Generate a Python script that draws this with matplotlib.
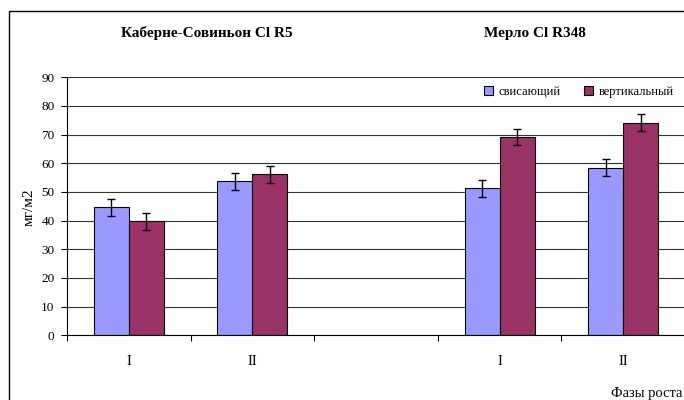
import numpy as np
import matplotlib
matplotlib.use("Agg")
import matplotlib.pyplot as plt
from matplotlib.patches import Rectangle

plt.rcParams["font.family"] = ["Liberation Serif", "DejaVu Serif"]

# data
phases = ["I", "II", "", "I", "II"]
hanging = [44.6, 53.7, np.nan, 51.3, 58.4]
hanging_err = [3.0, 3.0, np.nan, 2.9, 3.0]
vertical = [39.7, 56.1, np.nan, 69.1, 74.1]
vertical_err = [3.0, 3.0, np.nan, 2.8, 3.0]
series_names = ["свисающий", "вертикальный"]
variety_titles = ["Каберне-Совиньон Cl R5", "Мерло Cl R348"]
y_ticks = list(range(0, 91, 10))

blue = "#9999FF"
wine = "#993366"

fig = plt.figure(figsize=(6.84, 4.0), dpi=100)

# outer chart border (cut off at right and bottom in the reference)
fig.patches.append(Rectangle(
    (9 / 684, -0.05), 1.0, (400 - 11) / 400 + 0.05,
    transform=fig.transFigure, fill=False,
    edgecolor="black", linewidth=1.0
))

ax = fig.add_axes([67 / 684, 0.1618, 618 / 684, 0.645])

x = np.arange(len(phases))
w = 0.283

ax.bar(x - w / 2, hanging, w, color=blue, edgecolor="black",
       linewidth=0.8, label=series_names[0], zorder=3)
ax.bar(x + w / 2, vertical, w, color=wine, edgecolor="black",
       linewidth=0.8, label=series_names[1], zorder=3)

ax.errorbar(x - w / 2, hanging, yerr=hanging_err, fmt="none",
            ecolor="black", elinewidth=1, capsize=2.6, capthick=1, zorder=4)
ax.errorbar(x + w / 2, vertical, yerr=vertical_err, fmt="none",
            ecolor="black", elinewidth=1, capsize=2.6, capthick=1, zorder=4)

ax.set_xlim(-0.5, len(phases) - 0.5)
ax.set_ylim(0, 90)
ax.set_yticks(y_ticks)
ax.tick_params(axis="y", labelsize=9.5, length=4, width=0.8, pad=5,
               direction="out")

ax.set_xticks(x)
ax.set_xticklabels(phases, fontsize=10.5)
ax.tick_params(axis="x", which="major", length=0, pad=14)
ax.set_xticks(np.arange(-0.5, len(phases)), minor=True)
ax.tick_params(axis="x", which="minor", length=4, width=0.8,
               direction="out")

ax.yaxis.grid(True, color="#333333", linewidth=0.8, zorder=0)
ax.set_axisbelow(True)

for side in ["top", "right"]:
    ax.spines[side].set_visible(False)
for side in ["left", "bottom"]:
    ax.spines[side].set_linewidth(0.8)
    ax.spines[side].set_zorder(5)

fig.text(29 / 684, 1 - 207 / 400, "мг/м2", fontsize=11, rotation=90,
         ha="center", va="center")

leg = ax.legend(ncol=2, frameon=False, fontsize=9,
                loc="center left",
                handlelength=0.7, handleheight=0.7, handletextpad=0.45,
                columnspacing=1.9, borderaxespad=0, borderpad=0)
leg.set_bbox_to_anchor((484 / 684, 1 - 92 / 400), transform=fig.transFigure)

fig.text(207 / 684, 1 - 33 / 400, variety_titles[0], fontsize=11,
         fontweight="bold", ha="center", va="center")
fig.text(535 / 684, 1 - 33 / 400, variety_titles[1], fontsize=11,
         fontweight="bold", ha="center", va="center")

fig.text(611 / 684, 1 - 393 / 400, "Фазы роста", fontsize=10.5,
         ha="left", va="center")

fig.savefig("out.png", dpi=100)
